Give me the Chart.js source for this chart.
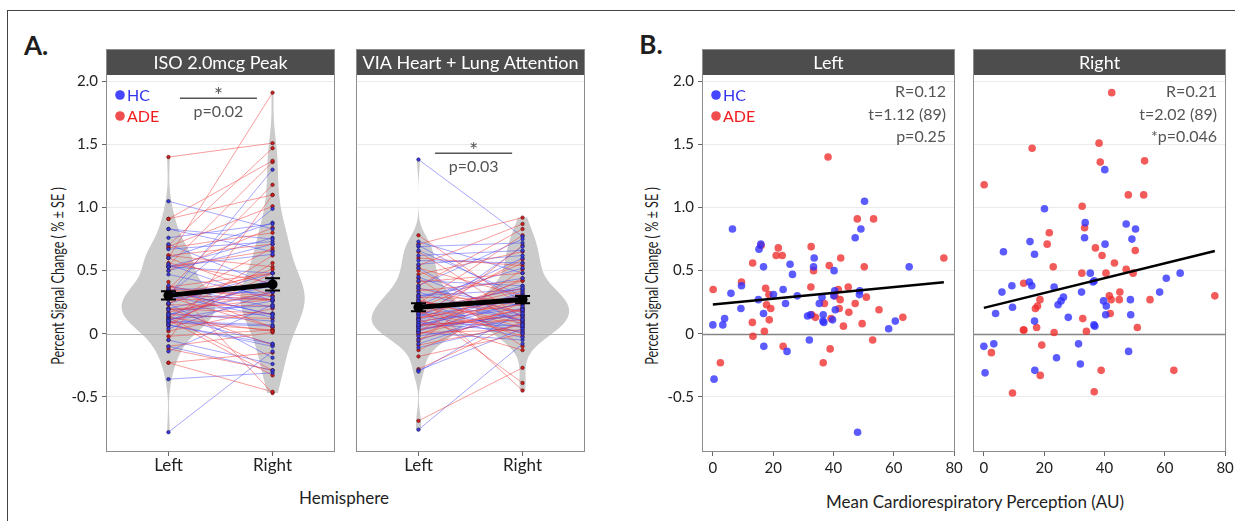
<!DOCTYPE html>
<html>
<head>
<meta charset="utf-8">
<title>Percent signal change</title>
<script src="https://cdn.jsdelivr.net/npm/chart.js@4.4.1/dist/chart.umd.min.js"></script>
<style>
  html, body { margin: 0; padding: 0; background: #fff; }
  #page { position: relative; width: 1235px; height: 521px; overflow: hidden; font-family: Lato, 'Open Sans', sans-serif; color: #1e1e1e; }
  #page canvas { position: absolute; top: 49px; }
  .txt { position: absolute; white-space: nowrap; transform: translate(-50%, -50%); line-height: 1; }
  .ytitle { transform: translate(-50%, -50%) rotate(-90deg) scaleX(0.7); }
  .frame { position: absolute; left: 7px; top: 10px; width: 1300px; height: 600px; border-left: 1px solid #444; border-top: 1px solid #444; }
</style>
</head>
<body>
<div id="page">
  <div class="frame"></div>
  <div class="txt" style="left:36px;top:45px;font-size:26px;font-weight:bold;">A.</div>
  <div class="txt" style="left:651px;top:44px;font-size:26px;font-weight:bold;">B.</div>
  <div class="txt ytitle" style="left:57px;top:276px;font-size:18px;">Percent Signal Change ( % ± SE )</div>
  <div class="txt ytitle" style="left:651px;top:276px;font-size:18px;">Percent Signal Change ( % ± SE )</div>
  <div class="txt" style="left:344px;top:497px;font-size:17px;">Hemisphere</div>
  <div class="txt" style="left:975px;top:501px;font-size:17px;">Mean Cardiorespiratory Perception (AU)</div>
  <canvas id="a1"></canvas>
  <canvas id="a2"></canvas>
  <canvas id="b1"></canvas>
  <canvas id="b2"></canvas>
</div>
<script>
// ---- data ----
const hemis = ['Left', 'Right'];
const yTicks = [-0.5, 0, 0.5, 1, 1.5, 2];
const yTickLabels = ['-0.5', '0', '0.5', '1.0', '1.5', '2.0'];
const perceptionTicks = [0, 20, 40, 60, 80];

// HC subjects (blue)
const hcPerception = [0.0, 0.4, 3.3, 3.9, 6.0, 6.5, 9.3, 9.5, 15.1, 15.3, 15.9, 16.8, 16.8, 16.9, 20.1,
  23.3, 24.1, 24.6, 25.6, 26.4, 28.0, 31.4, 32.0, 32.4, 33.4, 33.6, 35.3, 36.2, 36.5, 36.6,
  36.8, 39.7, 40.1, 40.2, 40.4, 40.6, 47.2, 48.0, 48.6, 48.7, 49.1, 50.3, 58.3, 60.5, 65.1];
const hcIsoLeft = [0.07, -0.36, 0.07, 0.12, 0.32, 0.83, 0.20, 0.38, 0.27, 0.67, 0.71, 0.53, 0.16, -0.10, 0.31,
  0.35, 0.24, -0.14, 0.55, 0.47, 0.30, 0.14, -0.05, 0.15, 0.53, 0.60, 0.24, 0.29, 0.10, 0.15,
  0.09, 0.11, 0.30, 0.50, 0.34, 0.19, 0.76, -0.78, 0.31, 0.34, 0.83, 1.05, 0.04, 0.10, 0.53];
const hcIsoRight = [-0.10, -0.31, -0.08, 0.16, 0.33, 0.65, 0.38, 0.21, 0.41, 0.73, 0.38, 0.63, 0.10, -0.29, 0.99,
  0.37, -0.19, 0.23, 0.26, 0.29, 0.13, -0.08, -0.24, 0.33, 0.76, 0.88, 0.48, 0.41, 0.07, 0.42,
  0.06, 0.26, 1.30, 0.71, 0.15, 0.22, 0.87, -0.14, 0.27, 0.15, 0.75, 0.83, 0.33, 0.44, 0.48];
const hcViaLeft = [1.38, 0.73, 0.69, 0.66, 0.62, 0.58, 0.38, 0.30, 0.33, 0.28, 0.22, 0.18, 0.15, 0.12, 0.10,
  0.08, 0.06, 0.04, 0.02, 0.01, -0.02, -0.05, -0.11, -0.29, -0.30, -0.76, 0.45, 0.36, 0.25, 0.20,
  0.14, 0.09, 0.05, 0.03, 0.30, 0.52, 0.70, 0.55, 0.11, 0.16, 0.26, 0.42, 0.07, -0.08, 0.19];
const hcViaRight = [0.77, 0.48, 0.72, 0.30, 0.66, 0.56, 0.75, 0.44, 0.10, 0.52, 0.60, 0.05, 0.38, 0.69, 0.20,
  0.02, 0.33, 0.15, 0.25, -0.05, 0.12, 0.20, 0.08, 0.04, 0.18, -0.08, 0.14, 0.22, 0.00, 0.25,
  0.28, 0.06, 0.30, 0.16, 0.35, 0.07, 0.26, 0.62, 0.31, -0.03, 0.11, 0.38, 0.24, 0.19, 0.36];

// ADE subjects (red)
const adePerception = [0.1, 2.5, 9.5, 13.1, 13.2, 13.3, 16.0, 17.1, 17.5, 17.8, 18.6, 18.7, 19.2, 21.0, 21.7,
  23.0, 23.3, 32.5, 32.6, 32.8, 33.4, 34.0, 36.6, 37.0, 38.2, 38.6, 38.9, 39.2, 40.5, 41.6,
  41.9, 42.2, 42.4, 43.3, 44.9, 45.1, 47.2, 47.9, 49.5, 50.2, 50.9, 53.0, 53.3, 55.1, 63.0, 76.6];
const adeIsoLeft = [0.35, -0.23, 0.41, 0.09, 0.56, -0.02, 0.70, 0.02, 0.36, 0.23, 0.31, 0.11, 0.20, 0.62, 0.68,
  0.62, -0.10, 0.37, 0.69, 0.15, 0.50, 0.13, -0.23, 0.24, 1.40, 0.54, -0.12, 0.12, 0.30, 0.35,
  0.20, 0.27, 0.60, 0.06, 0.37, 0.17, 0.24, 0.91, 0.08, 0.53, 0.29, -0.05, 0.91, 0.19, 0.13, 0.60];
const adeIsoRight = [1.18, -0.15, -0.47, 0.03, 0.40, 0.03, 1.47, 0.20, 0.05, 0.22, 0.27, -0.33, -0.09, 0.71, 0.80,
  0.53, 0.01, 0.48, 1.01, 0.12, 0.84, 0.02, -0.46, 0.68, 1.51, 1.36, -0.29, 0.62, 0.48, 0.30,
  0.16, 0.27, 1.91, 0.56, 0.27, 0.33, 0.51, 1.10, 0.48, 0.66, 0.05, 1.10, 1.37, 0.27, -0.29, 0.30];
const adeViaLeft = [0.78, 0.71, 0.65, 0.60, 0.54, 0.52, 0.50, 0.47, 0.44, 0.41, 0.38, 0.36, 0.34, 0.31, 0.29,
  0.27, 0.24, 0.21, 0.19, 0.17, 0.15, 0.13, 0.11, 0.09, 0.07, 0.05, 0.03, 0.01, -0.01, -0.04,
  -0.06, -0.09, -0.13, -0.18, -0.28, -0.69, 0.25, 0.12, 0.23, 0.12, 0.06, 0.02, 0.26, 0.16, 0.00, 0.20];
const adeViaRight = [0.21, 0.92, 0.13, 0.54, 0.87, 0.30, 0.09, 0.65, -0.10, 0.48, 0.83, 0.17, 0.42, -0.45, 0.27,
  0.05, 0.78, -0.39, 0.36, 0.01, 0.59, 0.23, -0.13, 0.26, 0.11, 0.70, 0.19, 0.03, 0.32, 0.14,
  0.51, 0.07, 0.25, 0.00, 0.10, -0.27, 0.18, 0.42, -0.02, 0.29, 0.15, 0.44, 0.08, 0.34, 0.20, 0.56];

const stripA = ['ISO 2.0mcg Peak', 'VIA Heart + Lung Attention'];
const stripB = ['Left', 'Right'];
const statsLeft = ['R=0.12', 't=1.12 (89)', 'p=0.25'];
const statsRight = ['R=0.21', 't=2.02 (89)', '*p=0.046'];
const sigLabels = ['p=0.02', 'p=0.03'];
const groupLabels = ['HC', 'ADE'];

// ---- layout ----
const FONT = 'Lato, "Open Sans", sans-serif';
const H = 472, STRIP = 26, XAXIS_H = 69, PADL = 44;
const Y_MIN = -0.937, Y_MAX = 2.05;

function mean(a) { return a.reduce((s, v) => s + v, 0) / a.length; }
function sd(a) { const m = mean(a); return Math.sqrt(a.reduce((s, v) => s + (v - m) ** 2, 0) / (a.length - 1)); }

// gaussian kernel density, trimmed to the data range (like a ggplot violin)
function kde(vals) {
  const n = vals.length, s = vals.slice().sort((a, b) => a - b);
  const q = p => { const h = (n - 1) * p, i = Math.floor(h); return s[i] + (h - i) * ((i + 1 < n ? s[i + 1] : s[i]) - s[i]); };
  const bw = 0.9 * Math.min(sd(vals), (q(0.75) - q(0.25)) / 1.34) * Math.pow(n, -0.2);
  const out = [];
  for (let k = 0; k <= 256; k++) {
    const v = s[0] + (s[n - 1] - s[0]) * k / 256;
    let d = 0;
    for (const u of vals) { const z = (v - u) / bw; d += Math.exp(-0.5 * z * z); }
    out.push([v, d / (n * bw)]);
  }
  return out;
}

function fitLine(xs, ys) {
  const mx = mean(xs), my = mean(ys);
  let sxy = 0, sxx = 0;
  xs.forEach((x, i) => { sxy += (x - mx) * (ys[i] - my); sxx += (x - mx) ** 2; });
  const b = sxy / sxx, a = my - b * mx;
  const lo = Math.min(...xs), hi = Math.max(...xs);
  return [{ x: lo, y: a + b * lo }, { x: hi, y: a + b * hi }];
}

function placeCanvas(id, left, right, padR) {
  const c = document.getElementById(id);
  const w = PADL + (right - left) + padR;
  c.width = w; c.height = H;
  c.style.width = w + 'px'; c.style.height = H + 'px';
  c.style.left = (left - PADL) + 'px';
  return c;
}

function yScale(show) {
  return {
    type: 'linear', min: Y_MIN, max: Y_MAX,
    afterBuildTicks: s => { s.ticks = yTicks.map(value => ({ value })); },
    afterFit: s => { s.width = PADL; },
    border: { display: false },
    grid: {
      color: c => (c.tick && c.tick.value === 0) ? 'rgba(0,0,0,0)' : '#ebebeb',
      lineWidth: 1, drawTicks: show, tickLength: 4, tickColor: '#666', tickWidth: 1
    },
    ticks: { display: show, padding: 4, color: '#222', font: { family: FONT, size: 15 }, callback: (v, i) => yTickLabels[i] }
  };
}

function xScale(min, max, ticks, labels, size, pad) {
  return {
    type: 'linear', min, max,
    afterBuildTicks: s => { s.ticks = ticks.map(value => ({ value })); },
    afterFit: s => { s.height = XAXIS_H; },
    border: { display: false },
    grid: { drawOnChartArea: false, drawTicks: true, tickLength: 4, tickColor: '#666', tickWidth: 1 },
    ticks: { padding: pad, color: '#222', maxRotation: 0, autoSkip: false, font: { family: FONT, size }, callback: (v, i) => labels[i] }
  };
}

function options(x, showY, padR) {
  return {
    responsive: false, animation: false, devicePixelRatio: 1, events: [],
    layout: { padding: { top: STRIP, right: padR, left: 0, bottom: 0 } },
    plugins: { legend: { display: false }, tooltip: { enabled: false } },
    scales: { x, y: yScale(showY) }
  };
}

// panel decorations: white panel, violins, zero line, error bars, strip, border, texts
function facetDecor(cfg) {
  return {
    id: 'facetDecor',
    beforeDraw(chart) {
      const { ctx, chartArea: a } = chart;
      ctx.save(); ctx.fillStyle = '#fff'; ctx.fillRect(a.left, a.top, a.width, a.height); ctx.restore();
    },
    beforeDatasetsDraw(chart) {
      const { ctx, chartArea: a, scales: { x, y } } = chart;
      ctx.save();
      if (cfg.violins) {
        const dens = cfg.violins.map(kde);
        const maxD = Math.max(...dens.flat().map(p => p[1]));
        ctx.fillStyle = '#cbcbcb';
        dens.forEach((pts, gi) => {
          const cx = gi + 1;
          ctx.beginPath();
          pts.forEach(([v, d], i) => {
            const px = x.getPixelForValue(cx + 0.45 * d / maxD), py = y.getPixelForValue(v);
            if (i) ctx.lineTo(px, py); else ctx.moveTo(px, py);
          });
          for (let i = pts.length - 1; i >= 0; i--) {
            ctx.lineTo(x.getPixelForValue(cx - 0.45 * pts[i][1] / maxD), y.getPixelForValue(pts[i][0]));
          }
          ctx.closePath(); ctx.fill();
        });
      }
      const y0 = Math.round(y.getPixelForValue(0)) + 0.5;
      ctx.strokeStyle = cfg.zeroColor; ctx.lineWidth = cfg.zeroWidth;
      ctx.beginPath(); ctx.moveTo(a.left, y0); ctx.lineTo(a.right, y0); ctx.stroke();
      ctx.restore();
    },
    afterDatasetsDraw(chart) {
      if (!cfg.errors) return;
      const { ctx, scales: { x, y } } = chart;
      ctx.save();
      ctx.strokeStyle = '#000'; ctx.lineWidth = 2;
      cfg.errors.forEach(([m, se], i) => {
        const px = x.getPixelForValue(i + 1), lo = y.getPixelForValue(m - se), hi = y.getPixelForValue(m + se);
        ctx.beginPath();
        ctx.moveTo(px, lo); ctx.lineTo(px, hi);
        ctx.moveTo(px - 7.5, lo); ctx.lineTo(px + 7.5, lo);
        ctx.moveTo(px - 7.5, hi); ctx.lineTo(px + 7.5, hi);
        ctx.stroke();
      });
      ctx.restore();
    },
    afterDraw(chart) {
      const { ctx, chartArea: a, scales: { x, y } } = chart;
      ctx.save();
      // strip
      ctx.fillStyle = '#4d4d4d';
      ctx.fillRect(a.left, a.top - STRIP, a.width, STRIP);
      ctx.fillStyle = '#fff'; ctx.font = '18px ' + FONT; ctx.textAlign = 'center'; ctx.textBaseline = 'middle';
      ctx.fillText(cfg.title, (a.left + a.right) / 2, a.top - STRIP / 2 + 1);
      // panel border
      ctx.strokeStyle = '#8c8c8c'; ctx.lineWidth = 1;
      ctx.strokeRect(a.left + 0.5, a.top - STRIP + 0.5, a.width - 1, a.height + STRIP - 1);
      // group legend
      if (cfg.legend) {
        const cols = [['#4646ff', '#3434ee'], ['#f04e4e', '#f21c1c']];
        ctx.font = '16px ' + FONT; ctx.textAlign = 'left';
        groupLabels.forEach((g, i) => {
          const yy = a.top + 20 + i * 21;
          ctx.fillStyle = cols[i][0];
          ctx.beginPath(); ctx.arc(a.left + 14, yy, 4.8, 0, Math.PI * 2); ctx.fill();
          ctx.fillStyle = cols[i][1];
          ctx.fillText(g, a.left + 21, yy + 1);
        });
      }
      // correlation stats
      if (cfg.stats) {
        ctx.fillStyle = '#555'; ctx.font = '16px ' + FONT; ctx.textAlign = 'right';
        cfg.stats.forEach((s, i) => ctx.fillText(s, a.right - 9, a.top + 17 + i * 22.5));
      }
      // significance bracket
      if (cfg.sig) {
        const [x0, x1, yv, label] = cfg.sig;
        const p0 = x.getPixelForValue(x0), p1 = x.getPixelForValue(x1), py = y.getPixelForValue(yv);
        ctx.strokeStyle = '#555'; ctx.lineWidth = 1.5;
        ctx.beginPath(); ctx.moveTo(p0, py); ctx.lineTo(p1, py); ctx.stroke();
        ctx.fillStyle = '#555'; ctx.textAlign = 'center';
        ctx.font = '21px ' + FONT; ctx.textBaseline = 'alphabetic';
        ctx.fillText('*', (p0 + p1) / 2, py + 5);
        ctx.font = '16px ' + FONT; ctx.textBaseline = 'middle';
        ctx.fillText(label, (p0 + p1) / 2, py + 13.5);
      }
      ctx.restore();
    }
  };
}

function pairLines(left, right) {
  const d = [];
  left.forEach((v, i) => d.push({ x: 1, y: v }, { x: 2, y: right[i] }, { x: 1.5, y: null }));
  return d;
}
function pairPoints(left, right) {
  return left.map(v => ({ x: 1, y: v })).concat(right.map(v => ({ x: 2, y: v })));
}

function hemisphereChart(id, left, right, hcL, hcR, adeL, adeR, title, sig, legend, showY) {
  const allL = hcL.concat(adeL), allR = hcR.concat(adeR);
  const mL = mean(allL), mR = mean(allR);
  const seL = sd(allL) / Math.sqrt(allL.length), seR = sd(allR) / Math.sqrt(allR.length);
  return new Chart(placeCanvas(id, left, right, 4), {
    type: 'line',
    data: {
      datasets: [
        { data: [{ x: 1, y: mL }, { x: 2, y: mR }], borderColor: '#000', borderWidth: 5, pointRadius: 5,
          pointBackgroundColor: '#000', pointBorderWidth: 0, order: 0 },
        { type: 'scatter', data: pairPoints(hcL, hcR), pointRadius: 1.7, backgroundColor: '#3b3be0',
          borderColor: '#1d1d66', borderWidth: 0.7, order: 1 },
        { type: 'scatter', data: pairPoints(adeL, adeR), pointRadius: 1.7, backgroundColor: '#d21e1e',
          borderColor: '#661414', borderWidth: 0.7, order: 1 },
        { data: pairLines(adeL, adeR), borderColor: 'rgba(240,55,55,0.55)', borderWidth: 0.9, pointRadius: 0,
          spanGaps: false, order: 2 },
        { data: pairLines(hcL, hcR), borderColor: 'rgba(60,60,250,0.5)', borderWidth: 0.9, pointRadius: 0,
          spanGaps: false, order: 2 }
      ]
    },
    options: options(xScale(0.4, 2.6, [1, 2], hemis, 17, -1), showY, 4),
    plugins: [facetDecor({ title, sig, legend, violins: [allL, allR], errors: [[mL, seL], [mR, seR]],
      zeroColor: '#b4b4b4', zeroWidth: 1.2 })]
  });
}

function perceptionChart(id, left, right, hcY, adeY, title, stats, legend, showY) {
  const line = fitLine(hcPerception.concat(adePerception), hcY.concat(adeY));
  return new Chart(placeCanvas(id, left, right, 14), {
    type: 'line',
    data: {
      datasets: [
        { data: line, borderColor: '#000', borderWidth: 2.5, pointRadius: 0, order: 0 },
        { type: 'scatter', data: hcPerception.map((x, i) => ({ x, y: hcY[i] })), pointRadius: 3.8,
          backgroundColor: 'rgba(45,45,255,0.78)', borderWidth: 0, order: 1 },
        { type: 'scatter', data: adePerception.map((x, i) => ({ x, y: adeY[i] })), pointRadius: 3.8,
          backgroundColor: 'rgba(240,45,45,0.78)', borderWidth: 0, order: 1 }
      ]
    },
    options: options(xScale(-3.6, 80.3, perceptionTicks, perceptionTicks.map(String), 15, 3), showY, 14),
    plugins: [facetDecor({ title, stats, legend, zeroColor: '#858585', zeroWidth: 1.5 })]
  });
}

hemisphereChart('a1', 106, 336, hcIsoLeft, hcIsoRight, adeIsoLeft, adeIsoRight, stripA[0],
  [1.11, 1.85, 1.865, sigLabels[0]], true, true);
hemisphereChart('a2', 356, 586, hcViaLeft, hcViaRight, adeViaLeft, adeViaRight, stripA[1],
  [1.16, 1.90, 1.43, sigLabels[1]], false, false);
perceptionChart('b1', 702, 955, hcIsoLeft, adeIsoLeft, stripB[0], statsLeft, true, true);
perceptionChart('b2', 973, 1226, hcIsoRight, adeIsoRight, stripB[1], statsRight, false, false);
</script>
</body>
</html>
